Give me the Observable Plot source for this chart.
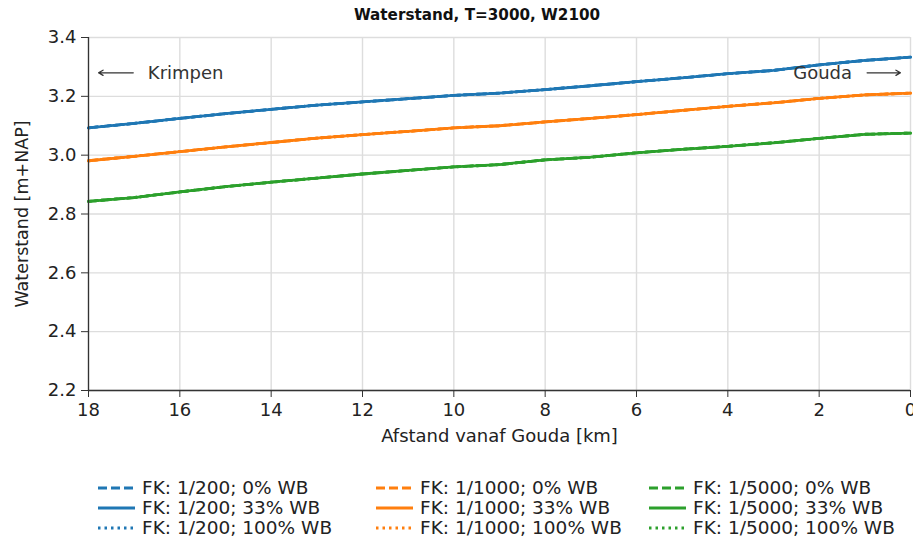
<!DOCTYPE html>
<html><head><meta charset="utf-8">
<script src="https://cdn.jsdelivr.net/npm/d3@7"></script>
<script src="https://cdn.jsdelivr.net/npm/@observablehq/plot@0.6"></script>
<style>
body{margin:0;background:#fff;font-family:"DejaVu Sans",sans-serif;color:#222;}
#wrap{position:relative;width:913px;height:540px;overflow:hidden;}
#title{position:absolute;top:6px;left:327px;width:300px;text-align:center;font-weight:bold;font-size:15.2px;color:#111;}
#chart{position:absolute;top:0;left:0;}
#legend{position:absolute;top:476px;left:0;}
</style></head><body>
<div id="wrap"><div id="title">Waterstand, T=3000, W2100</div><div id="chart"></div><div id="legend"></div></div>
<script>
const km = [18,17,16,15,14,13,12,11,10,9,8,7,6,5,4,3,2,1,0];
const fk200  = [3.093,3.108,3.125,3.141,3.156,3.170,3.181,3.192,3.203,3.211,3.223,3.236,3.250,3.263,3.277,3.288,3.307,3.322,3.333];
const fk1000 = [2.981,2.996,3.012,3.028,3.043,3.058,3.070,3.081,3.093,3.100,3.113,3.125,3.138,3.152,3.166,3.178,3.193,3.205,3.211];
const fk5000 = [2.843,2.856,2.875,2.893,2.908,2.922,2.936,2.948,2.960,2.968,2.984,2.993,3.008,3.020,3.030,3.042,3.057,3.071,3.075];
const fkNames = ["1/200","1/1000","1/5000"];
const fkValues = [fk200, fk1000, fk5000];
const fkColors = ["#1f77b4","#ff7f0e","#2ca02c"];
const wbNames = ["0%","33%","100%"];
const wbDash = ["9,4", null, "2.5,4"];
const xTicks = [0,2,4,6,8,10,12,14,16,18];
const yTicks = [2.2,2.4,2.6,2.8,3.0,3.2,3.4];
const leftNote = {label:"Krimpen", x:16.7, ax1:17.02, ax2:17.78};
const rightNote = {label:"Gouda", x:1.28, ax1:0.95, ax2:0.22};
const noteY = 3.28;

const lineMarks = [];
wbNames.forEach((wb, wi) => {
  fkNames.forEach((fk, fi) => {
    const rows = km.map((k, i) => ({km:k, h:fkValues[fi][i]}));
    lineMarks.push(Plot.line(rows, {x:"km", y:"h", stroke:fkColors[fi], strokeWidth:2.8,
      strokeDasharray: wbDash[wi] || undefined, curve:"linear"}));
  });
});

const notes = [leftNote, rightNote];
const plot = Plot.plot({
  width:913, height:460,
  marginLeft:88, marginRight:3, marginTop:37, marginBottom:70,
  style:{fontFamily:"DejaVu Sans, sans-serif", fontSize:"18px", color:"#222", background:"transparent"},
  x:{domain:[18,0]},
  y:{domain:[2.2,3.4]},
  marks:[
    Plot.gridX(xTicks, {stroke:"#ddd", strokeOpacity:1, strokeWidth:1.4}),
    Plot.gridY(yTicks, {stroke:"#ddd", strokeOpacity:1, strokeWidth:1.4}),
    ...lineMarks,
    Plot.ruleY([2.2], {stroke:"#333", strokeWidth:1.3}),
    Plot.ruleX([18], {stroke:"#333", strokeWidth:1.3}),
    Plot.axisX(xTicks, {tickSize:7, tickPadding:6, stroke:"#333", fontSize:18, label:null, tickFormat:d=>String(d)}),
    Plot.axisY(yTicks, {tickSize:7, tickPadding:5, stroke:"#333", fontSize:18, label:null, tickFormat:d=>d.toFixed(1)}),
    Plot.text(["Afstand vanaf Gouda [km]"], {frameAnchor:"bottom", dy:51, fontSize:18, fill:"#222"}),
    Plot.text(["Waterstand [m+NAP]"], {frameAnchor:"left", textAnchor:"middle", dx:-66, rotate:-90, fontSize:17.5, fill:"#222"}),
    Plot.arrow(notes, {x1:"ax1", x2:"ax2", y1:()=>noteY, y2:()=>noteY, stroke:"#333", strokeWidth:1.3, headLength:6, bend:0}),
    Plot.text([leftNote], {x:"x", y:()=>noteY, text:"label", textAnchor:"start", fontSize:18, fill:"#333"}),
    Plot.text([rightNote], {x:"x", y:()=>noteY, text:"label", textAnchor:"end", fontSize:18, fill:"#333"})
  ]
});
document.getElementById("chart").appendChild(plot);

// legend
const ns = "http://www.w3.org/2000/svg";
const leg = document.createElementNS(ns, "svg");
leg.setAttribute("width", 913); leg.setAttribute("height", 64);
const colX = [98, 376, 649];
const rowY = [12, 32, 52];
fkNames.forEach((fk, fi) => {
  wbNames.forEach((wb, wi) => {
    const l = document.createElementNS(ns, "line");
    l.setAttribute("x1", colX[fi]); l.setAttribute("x2", colX[fi]+37);
    l.setAttribute("y1", rowY[wi]); l.setAttribute("y2", rowY[wi]);
    l.setAttribute("stroke", fkColors[fi]); l.setAttribute("stroke-width", 2.8);
    if (wbDash[wi]) l.setAttribute("stroke-dasharray", wbDash[wi]);
    leg.appendChild(l);
    const t = document.createElementNS(ns, "text");
    t.setAttribute("x", colX[fi]+44); t.setAttribute("y", rowY[wi]);
    t.setAttribute("dy", "0.35em"); t.setAttribute("font-size", 18.5);
    t.setAttribute("font-family", "DejaVu Sans, sans-serif"); t.setAttribute("fill", "#222");
    t.textContent = `FK: ${fk}; ${wb} WB`;
    leg.appendChild(t);
  });
});
document.getElementById("legend").appendChild(leg);
</script>
</body></html>
